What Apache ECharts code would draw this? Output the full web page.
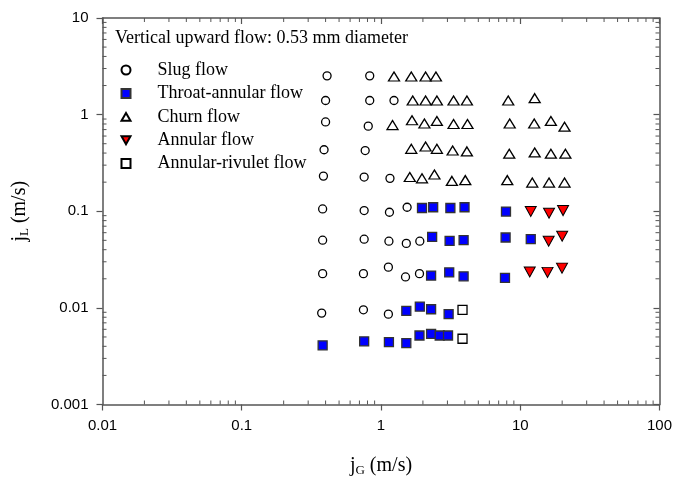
<!DOCTYPE html>
<html><head><meta charset="utf-8">
<script src="https://cdn.jsdelivr.net/npm/echarts@6/dist/echarts.min.js"></script>
<style>html,body{margin:0;padding:0;background:#fff}#c{width:675px;height:482px}</style>
</head><body><div id="c"></div>
<script>
// ---- data (jG, jL in m/s) ----
const slugX = [0.41,0.83, 0.40,0.83,1.24, 0.40,0.81, 0.39,0.77, 0.386,0.757,1.16, 0.381,0.757,1.15,1.54, 0.381,0.757,1.14,1.52,1.90, 0.381,0.748,1.13,1.50,1.89, 0.375,0.748,1.13];
const slugY = [2.52,2.52, 1.40,1.40,1.40, 0.84,0.76, 0.433,0.425, 0.231,0.226,0.219, 0.1056,0.1016,0.0977,0.110, 0.0502,0.0514,0.049,0.0465,0.049, 0.0226,0.0226,0.0264,0.0209,0.0226, 0.00883,0.00955,0.00861];
const throatX = [1.97,2.37,3.15,3.98,7.9, 2.33,3.11,3.92,7.85,11.9, 2.29,3.09,3.92,7.77, 1.52,1.90,2.29,3.06, 0.381,0.757,1.14,1.52,1.89,2.29,2.64,3.03];
const throatY = [0.108,0.110,0.108,0.110,0.0993, 0.0543,0.0494,0.0502,0.0535,0.0514, 0.0216,0.0233,0.0212,0.0204, 0.00931,0.0103,0.00968,0.00861, 0.00409,0.0045,0.00443,0.00432,0.00518,0.00538,0.00518,0.00518];
const churnX = [1.24,1.65,2.09,2.48, 1.69,2.09,2.52,3.32,4.14,8.2,12.7, 1.21,1.67,2.05,2.52,3.32,4.18,8.4,12.6,16.6,20.8, 1.65,2.09,2.52,3.27,4.14,8.34,12.7,16.6,21.1, 1.61,1.97,2.42,3.23,4.03,8.07,12.2,16.1,20.8];
const churnY = [2.48,2.48,2.48,2.48, 1.40,1.40,1.40,1.40,1.40,1.40,1.48, 0.78,0.875,0.81,0.86,0.80,0.80,0.81,0.81,0.86,0.75, 0.443,0.468,0.443,0.425,0.416,0.394,0.406,0.394,0.394, 0.226,0.219,0.240,0.206,0.210,0.210,0.198,0.198,0.198];
const annularX = [11.9,16.1,20.3, 16.0,20.0, 11.7,15.7,19.95];
const annularY = [0.0993,0.0955,0.1016, 0.049,0.0552, 0.0235,0.0233,0.0258];
const rivuletX = [3.85,3.85];
const rivuletY = [0.00955,0.00479];
const seriesNames = ['Slug flow','Throat-annular flow','Churn flow','Annular flow','Annular-rivulet flow'];
const titleText = 'Vertical upward flow: 0.53 mm diameter';
const xMin = 0.01, xMax = 100, yMin = 0.001, yMax = 10;

function pairs(xs, ys){ return xs.map((x,i)=>[x, ys[i]]); }
function minorValues(lo, hi){
  const out = [];
  for (let e = Math.round(Math.log10(lo)); e < Math.round(Math.log10(hi)); e++)
    for (let m = 2; m <= 9; m++) out.push(m * Math.pow(10, e));
  return out;
}
const xMinor = minorValues(xMin, xMax);
const yMinor = minorValues(yMin, yMax);

const SERIF = '"Liberation Serif","Times New Roman",serif';
const SANS = '"Liberation Sans",Arial,sans-serif';
const AX = '#555';
const circlePath = 'path://M5,0A5,5,0,1,1,4.999,0Z';
const rectPath = 'path://M0,0H10V10H0Z';
const upTri = 'path://M5,0L10,8.5L0,8.5Z';
const downTri = 'path://M0,0L10,0L5,9Z';
const legendIcons = [circlePath, rectPath, upTri, downTri, rectPath];
const fmt = v => String(+Number(v).toPrecision(6));

const chart = echarts.init(document.getElementById('c'), null, {renderer:'canvas'});
const tickLen = 4;
chart.setOption({
  animation:false,
  backgroundColor:'#fff',
  title:{text:titleText, left:115, top:29, padding:0,
    textStyle:{fontFamily:SERIF, fontSize:18, fontWeight:'normal', color:'#000'}},
  legend:{orient:'vertical', left:120.5, top:61, padding:0, itemGap:5.4,
    itemWidth:9, itemHeight:9, symbolKeepAspect:true,
    data:seriesNames.map((n,i)=>({name:n, icon:legendIcons[i]})),
    formatter: n => '{t|' + n + '}',
    textStyle:{fontFamily:SERIF, fontSize:18, color:'#000',
      rich:{t:{fontFamily:SERIF, fontSize:18, color:'#000', padding:[0,0,0,22]}}}},
  grid:{left:102, right:13, top:18, bottom:72, containLabel:false},
  xAxis:[{type:'log', logBase:10, min:xMin, max:xMax, splitNumber:4, position:'bottom',
      name:'{a|j}{b|G}{a| (m/s)}', nameLocation:'middle', nameGap:48,
      nameTextStyle:{rich:{a:{fontFamily:SERIF,fontSize:20,color:'#000',lineHeight:26},
                           b:{fontFamily:SERIF,fontSize:13,color:'#000',lineHeight:26,padding:[10,0,0,0]}}},
      axisLine:{show:true,lineStyle:{color:AX,width:1.5}},
      axisTick:{show:true,inside:false,length:6,lineStyle:{color:AX,width:1.2}},
      axisLabel:{fontFamily:SANS,fontSize:15,color:'#000',margin:14,formatter:fmt},
      splitLine:{show:false}},
    {type:'log', logBase:10, min:xMin, max:xMax, splitNumber:4, position:'top',
      axisLine:{show:true,lineStyle:{color:AX,width:1.5}},
      axisTick:{show:true,inside:true,length:6,lineStyle:{color:AX,width:1.2}},
      axisLabel:{show:false}, splitLine:{show:false}}],
  yAxis:[{type:'log', logBase:10, min:yMin, max:yMax, splitNumber:4, position:'left',
      name:'{a|j}{b|L}{a| (m/s)}', nameLocation:'middle', nameGap:70, nameRotate:90,
      nameTextStyle:{rich:{a:{fontFamily:SERIF,fontSize:20,color:'#000',lineHeight:26},
                           b:{fontFamily:SERIF,fontSize:13,color:'#000',lineHeight:26,padding:[10,0,0,0]}}},
      axisLine:{show:true,lineStyle:{color:AX,width:1.5}},
      axisTick:{show:true,inside:false,length:6,lineStyle:{color:AX,width:1.2}},
      axisLabel:{fontFamily:SANS,fontSize:15,color:'#000',margin:14,formatter:fmt},
      splitLine:{show:false}},
    {type:'log', logBase:10, min:yMin, max:yMax, splitNumber:4, position:'right',
      axisLine:{show:true,lineStyle:{color:AX,width:1.5}},
      axisTick:{show:true,inside:true,length:6,lineStyle:{color:AX,width:1.2}},
      axisLabel:{show:false}, splitLine:{show:false}}],
  series:[
    {name:seriesNames[0], type:'scatter', data:pairs(slugX,slugY), symbol:'circle', symbolSize:8,
      itemStyle:{color:'#fff', borderColor:'#000', borderWidth:1.3, opacity:1}},
    {name:seriesNames[1], type:'scatter', data:pairs(throatX,throatY), symbol:'rect', symbolSize:9,
      itemStyle:{color:'#0000ff', borderColor:'#333', borderWidth:1.3, opacity:1}},
    {name:seriesNames[2], type:'scatter', data:pairs(churnX,churnY), symbol:'triangle', symbolSize:[11,9],
      itemStyle:{color:'#fff', borderColor:'#000', borderWidth:1.3, opacity:1}},
    {name:seriesNames[3], type:'scatter', data:pairs(annularX,annularY), symbol:downTri, symbolSize:[11,10],
      itemStyle:{color:'#ff0000', borderColor:'#000', borderWidth:1, opacity:1}},
    {name:seriesNames[4], type:'scatter', data:pairs(rivuletX,rivuletY), symbol:'rect', symbolSize:9,
      itemStyle:{color:'#fff', borderColor:'#000', borderWidth:1.3, opacity:1}},
    {type:'custom', silent:true, clip:false, z:1, legendHoverLink:false,
      data:xMinor.map(v=>[v, 1]),
      renderItem:function(params, api){
        const p = api.coord([api.value(0), 1]);
        const cs = params.coordSys;
        const st = {stroke:AX, lineWidth:1};
        return {type:'group', children:[
          {type:'line', shape:{x1:p[0],y1:cs.y+cs.height,x2:p[0],y2:cs.y+cs.height-tickLen}, style:st},
          {type:'line', shape:{x1:p[0],y1:cs.y,x2:p[0],y2:cs.y+tickLen}, style:st}]};
      }},
    {type:'custom', silent:true, clip:false, z:1, legendHoverLink:false,
      data:yMinor.map(v=>[1, v]),
      renderItem:function(params, api){
        const p = api.coord([1, api.value(1)]);
        const cs = params.coordSys;
        const st = {stroke:AX, lineWidth:1};
        return {type:'group', children:[
          {type:'line', shape:{x1:cs.x,y1:p[1],x2:cs.x+tickLen,y2:p[1]}, style:st},
          {type:'line', shape:{x1:cs.x+cs.width,y1:p[1],x2:cs.x+cs.width-tickLen,y2:p[1]}, style:st}]};
      }}
  ]
});
</script></body></html>
